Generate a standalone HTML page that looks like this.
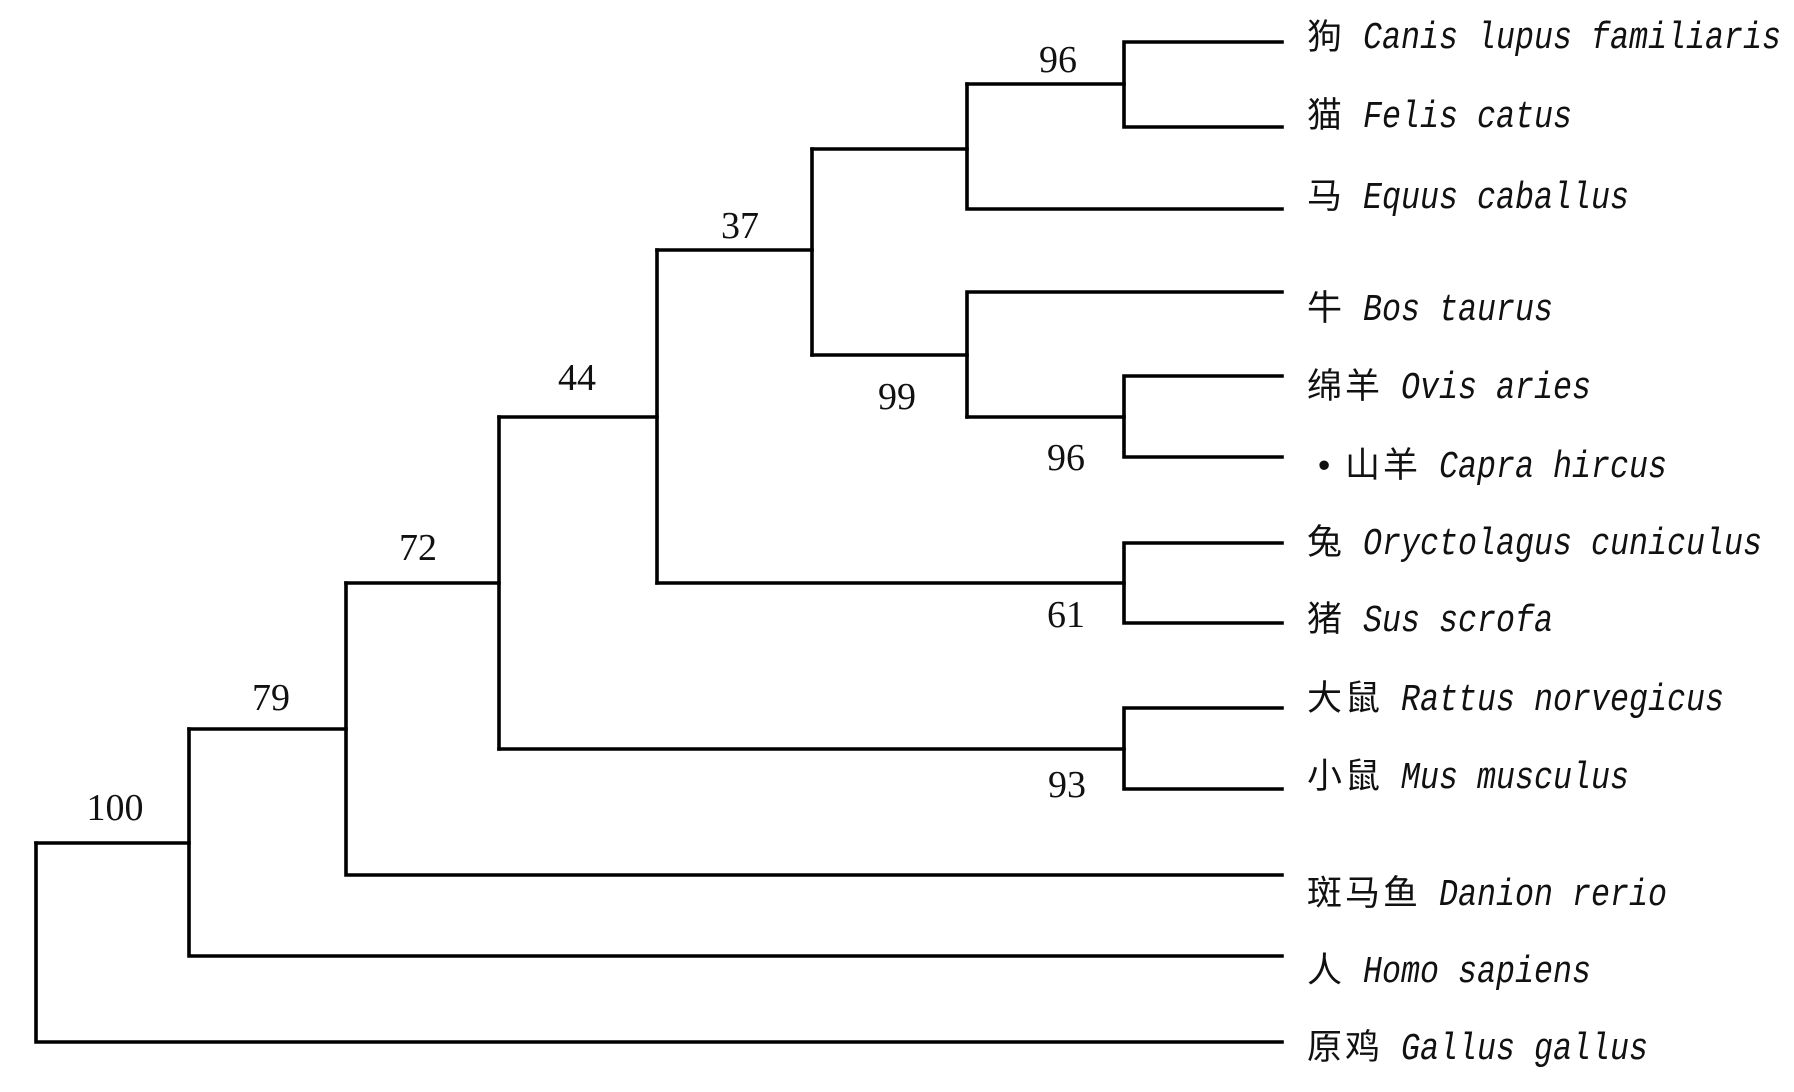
<!DOCTYPE html>
<html><head><meta charset="utf-8"><style>
html,body{margin:0;padding:0;background:#fff;}
svg{display:block}
.n{font-family:"Liberation Serif",serif;font-size:38px;fill:#111;text-anchor:middle}
.c{font-family:"Liberation Sans","Noto Sans CJK SC",sans-serif;font-size:35px;fill:#111}
.l{font-family:"Liberation Mono",monospace;font-style:italic;font-size:38px;fill:#111}
</style></head><body>
<svg width="1794" height="1092" viewBox="0 0 1794 1092" xmlns="http://www.w3.org/2000/svg">
<g stroke="#000" stroke-width="3.6" fill="none" stroke-linecap="square">
<path d="M1282 42 H1124 V127 H1282"/>
<path d="M1124 84 H967"/>
<path d="M1282 209 H967 V84"/>
<path d="M967 149 H812"/>
<path d="M1282 376 H1124 V457 H1282"/>
<path d="M1124 417 H967"/>
<path d="M1282 292 H967 V417"/>
<path d="M967 355 H812"/>
<path d="M812 149 V355"/>
<path d="M812 250 H657"/>
<path d="M1282 543 H1124 V623 H1282"/>
<path d="M1124 583 H657"/>
<path d="M657 250 V583"/>
<path d="M657 417 H499"/>
<path d="M1282 708 H1124 V789 H1282"/>
<path d="M1124 749 H499"/>
<path d="M499 417 V749"/>
<path d="M499 583 H346"/>
<path d="M1282 875 H346 V583"/>
<path d="M346 729 H189"/>
<path d="M1282 956 H189 V729"/>
<path d="M189 843 H36"/>
<path d="M1282 1042 H36 V843"/>
</g>
<g class="n">
<text x="115" y="820">100</text>
<text x="271" y="710">79</text>
<text x="418" y="560">72</text>
<text x="577" y="390">44</text>
<text x="740" y="238">37</text>
<text x="1058" y="72">96</text>
<text x="897" y="409">99</text>
<text x="1066" y="470">96</text>
<text x="1066" y="627">61</text>
<text x="1067" y="797">93</text>
</g>
<g>
<text class="c" x="1307" y="49">狗</text><text class="l" x="1363" y="48" textLength="418" lengthAdjust="spacingAndGlyphs">Canis lupus familiaris</text>
<text class="c" x="1307" y="127">猫</text><text class="l" x="1363" y="127" textLength="209" lengthAdjust="spacingAndGlyphs">Felis catus</text>
<text class="c" x="1307" y="208">马</text><text class="l" x="1363" y="208" textLength="266" lengthAdjust="spacingAndGlyphs">Equus caballus</text>
<text class="c" x="1307" y="320">牛</text><text class="l" x="1363" y="320" textLength="190" lengthAdjust="spacingAndGlyphs">Bos taurus</text>
<text class="c" x="1307 1345" y="398">绵羊</text><text class="l" x="1401" y="398" textLength="190" lengthAdjust="spacingAndGlyphs">Ovis aries</text>
<text class="c" x="1318" y="477">•</text><text class="c" x="1345 1383" y="477">山羊</text><text class="l" x="1439" y="477" textLength="228" lengthAdjust="spacingAndGlyphs">Capra hircus</text>
<text class="c" x="1307" y="554">兔</text><text class="l" x="1363" y="554" textLength="399" lengthAdjust="spacingAndGlyphs">Oryctolagus cuniculus</text>
<text class="c" x="1307" y="631">猪</text><text class="l" x="1363" y="631" textLength="190" lengthAdjust="spacingAndGlyphs">Sus scrofa</text>
<text class="c" x="1307 1345" y="710">大鼠</text><text class="l" x="1401" y="710" textLength="323" lengthAdjust="spacingAndGlyphs">Rattus norvegicus</text>
<text class="c" x="1307 1345" y="788">小鼠</text><text class="l" x="1401" y="788" textLength="228" lengthAdjust="spacingAndGlyphs">Mus musculus</text>
<text class="c" x="1307 1345 1383" y="905">斑马鱼</text><text class="l" x="1439" y="905" textLength="228" lengthAdjust="spacingAndGlyphs">Danion rerio</text>
<text class="c" x="1307" y="982">人</text><text class="l" x="1363" y="982" textLength="228" lengthAdjust="spacingAndGlyphs">Homo sapiens</text>
<text class="c" x="1307 1345" y="1059">原鸡</text><text class="l" x="1401" y="1059" textLength="247" lengthAdjust="spacingAndGlyphs">Gallus gallus</text>
</g>
</svg>
</body></html>
